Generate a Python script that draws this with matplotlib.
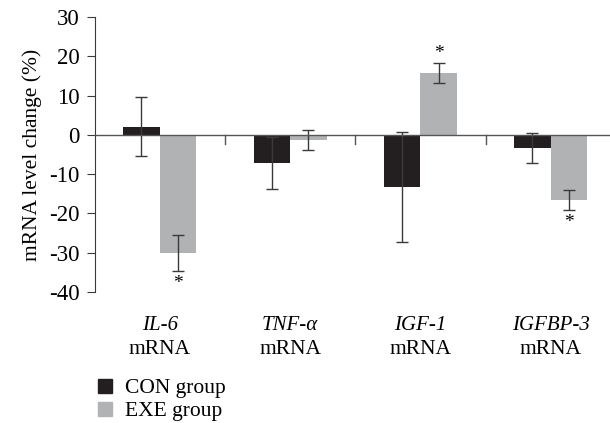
import numpy as np
import matplotlib.pyplot as plt
from matplotlib.patches import Patch

# values (percent change)
genes = ["IL-6", "TNF-α", "IGF-1", "IGFBP-3"]
con_mean = [2.1, -7.1, -13.3, -3.3]
con_err = [7.6, 6.6, 14.0, 3.8]
exe_mean = [-30.1, -1.3, 15.8, -16.6]
exe_err = [4.6, 2.5, 2.5, 2.5]
exe_sig = [True, False, True, True]

CON_COLOR = "#231f20"
EXE_COLOR = "#b1b2b4"
AXIS_COLOR = "#3a3a3a"

plt.rcParams["font.family"] = ["Liberation Serif", "DejaVu Serif"]
plt.rcParams["font.size"] = 15
plt.rcParams["axes.unicode_minus"] = False

fig = plt.figure(figsize=(6.1, 4.23), dpi=100)
ax = fig.add_axes([0.155, 0.3097, 0.845, 0.6503])

x = np.arange(len(genes))
w = 0.28
err_kw = dict(ecolor=AXIS_COLOR, elinewidth=1.0, capsize=4, capthick=1.0)
ax.bar(x - w / 2, con_mean, w, yerr=con_err, color=CON_COLOR, error_kw=err_kw, zorder=2)
ax.bar(x + w / 2, exe_mean, w, yerr=exe_err, color=EXE_COLOR, error_kw=err_kw, zorder=2)

# significance marks
for i, sig in enumerate(exe_sig):
    if not sig:
        continue
    if exe_mean[i] >= 0:
        ax.text(x[i] + w / 2, exe_mean[i] + exe_err[i] + 0.2, "*", ha="center", va="bottom", fontsize=14)
    else:
        ax.text(x[i] + w / 2, exe_mean[i] - exe_err[i] - 1.0, "*", ha="center", va="top", fontsize=14)

# zero line and group dividers
ax.axhline(0, color="#555555", lw=1.0, zorder=3)
for d in x[:-1] + 0.5:
    ax.plot([d, d], [0, -2.3], color="#555555", lw=1.0, zorder=3)

ax.set_xlim(-0.5, 3.455)
ax.set_ylim(-40, 30)
ax.set_yticks(np.arange(-40, 31, 10))
ax.set_xticks([])
for s in ["top", "right", "bottom"]:
    ax.spines[s].set_visible(False)
ax.spines["left"].set_color(AXIS_COLOR)
ax.tick_params(axis="y", direction="out", length=6, color=AXIS_COLOR, pad=5, labelsize=16.5)
ax.set_ylabel("mRNA level change (%)", labelpad=5, fontsize=15.5)

for i, g in enumerate(genes):
    ax.text(x[i], -48.6, g, ha="center", va="center", style="italic", fontsize=15)
    ax.text(x[i], -54.7, "mRNA", ha="center", va="center", fontsize=15.5)

handles = [Patch(color=CON_COLOR, label="CON group"), Patch(color=EXE_COLOR, label="EXE group")]
fig.legend(handles=handles, loc="upper left", bbox_to_anchor=(0.146, 0.125),
           frameon=False, handlelength=0.65, handleheight=0.65, handletextpad=0.6,
           labelspacing=0.15, borderaxespad=0, fontsize=15.5)

fig.savefig("out.png", dpi=100)
